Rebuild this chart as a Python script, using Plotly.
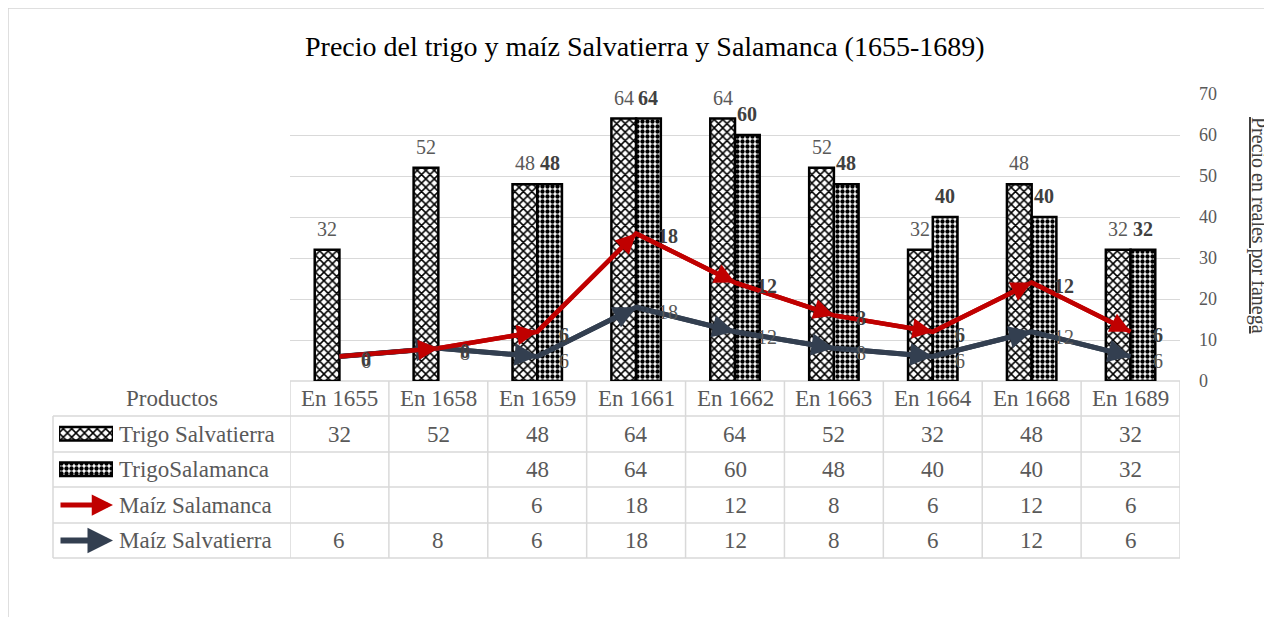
import plotly.graph_objects as go

W, H = 1272, 617

# ---------------- data ----------------
categories = ["En 1655", "En 1658", "En 1659", "En 1661", "En 1662",
              "En 1663", "En 1664", "En 1668", "En 1689"]
trigo_salvatierra = [32, 52, 48, 64, 64, 52, 32, 48, 32]
trigo_salamanca = [None, None, 48, 64, 60, 48, 40, 40, 32]
maiz_salamanca = [None, None, 6, 18, 12, 8, 6, 12, 6]
maiz_salvatierra = [6, 8, 6, 18, 12, 8, 6, 12, 6]
series_names = ["Trigo Salvatierra", "TrigoSalamanca", "Maíz Salamanca", "Maíz Salvatierra"]
title_text = "Precio del trigo y maíz Salvatierra y Salamanca (1655-1689)"
y_title = "Precio en reales por fanega"
corner_label = "Productos"
y_ticks = [0, 10, 20, 30, 40, 50, 60, 70]

# ---------------- styles ----------------
FONT = "Liberation Serif"
GREY = "#595959"
DARK = "#404040"
GRID = "#d9d9d9"
RED = "#c00000"
NAVY = "#333f50"

OFF = 8                                       # page body margin
PL, PR, PT, PB = 290, 1180, 94, 381          # plot area in screen pixels
ROW_LINES = [416, 452, 487, 523, 558]         # table horizontal lines
TABLE_L = 53
BARGAP = 0.5


def px(p):
    return (p - OFF) / W


def py(p):
    return 1 - (p - OFF) / H


# stacked line (Excel stacked line: Salamanca sits on top of Salvatierra)
sal_filled = [v if v is not None else 0 for v in maiz_salamanca]
red_y = [a + b for a, b in zip(maiz_salvatierra, sal_filled)]

fig = go.Figure()

pat_zig = dict(shape="x", fgcolor="black", bgcolor="white", size=6, solidity=0.45)
pat_dot = dict(shape=".", fgcolor="black", bgcolor="white", size=5, solidity=0.6)

fig.add_trace(go.Bar(x=categories, y=trigo_salvatierra, name=series_names[0],
                     marker=dict(color="white", pattern=pat_zig,
                                 line=dict(color="black", width=2.5))))
fig.add_trace(go.Bar(x=categories, y=trigo_salamanca, name=series_names[1],
                     marker=dict(color="white", pattern=pat_dot,
                                 line=dict(color="black", width=2.5))))

fig.add_trace(go.Scatter(x=categories, y=maiz_salvatierra, name=series_names[3],
                         mode="lines", line=dict(color=NAVY, width=5)))
fig.add_trace(go.Scatter(x=categories, y=red_y, name=series_names[2],
                         mode="lines", line=dict(color=RED, width=4.5)))

# legend key swatches for the bar series (in table's first column)
for i, pat in enumerate([pat_zig, pat_dot]):
    fig.add_trace(go.Bar(x=[1], y=[i], orientation="h", width=0.38, offset=-0.19,
                         xaxis="x2", yaxis="y2", cliponaxis=False,
                         marker=dict(color="white", pattern=pat,
                                     line=dict(color="black", width=2.5)),
                         hoverinfo="skip"))

annotations = []
shapes = []

# arrowheads at the end of every line segment (Excel "arrow" line end)
for ys, col, w in [(maiz_salvatierra, NAVY, 5), (red_y, RED, 4.5)]:
    for i in range(1, len(categories)):
        annotations.append(dict(text="", x=categories[i], y=ys[i], xref="x", yref="y",
                                ax=categories[i - 1], ay=ys[i - 1], axref="x", ayref="y",
                                showarrow=True, arrowhead=2, arrowsize=0.9,
                                arrowwidth=w, arrowcolor=col, standoff=0))


def ann(**kw):
    kw.setdefault("showarrow", False)
    kw.setdefault("xanchor", "center")
    kw.setdefault("yanchor", "middle")
    annotations.append(kw)


# title
ann(text=title_text, x=px(645), y=py(46), xref="paper", yref="paper",
    font=dict(family=FONT, size=28, color="black"))
# axis title (rotated, reading top to bottom)
ann(text="<u>" + y_title + "</u>", x=px(1259), y=py(225), xref="paper", yref="paper",
    textangle=90, font=dict(family=FONT, size=20, color=DARK))

# bar value labels
slot = (PR - PL) / len(categories) * (1 - BARGAP) / 2
for c, v in zip(categories, trigo_salvatierra):
    if v is not None:
        ann(text=str(v), x=c, y=v, xref="x", yref="y", xshift=-slot / 2, yshift=21,
            font=dict(family=FONT, size=20, color=GREY))
for c, v in zip(categories, trigo_salamanca):
    if v is not None:
        ann(text="<b>" + str(v) + "</b>", x=c, y=v, xref="x", yref="y",
            xshift=slot / 2, yshift=21, font=dict(family=FONT, size=20, color=DARK))
# line value labels
for c, v in zip(categories, maiz_salvatierra):
    ann(text=str(v), x=c, y=v, xref="x", yref="y", xanchor="left",
        xshift=20, yshift=-5, font=dict(family=FONT, size=20, color=GREY))
for c, v, yy in zip(categories, sal_filled, red_y):
    ann(text="<b>" + str(v) + "</b>", x=c, y=yy, xref="x", yref="y",
        xanchor="left", xshift=20, yshift=-3, font=dict(family=FONT, size=20, color=DARK))

# ---------------- data table ----------------
hdr_y = (PB + ROW_LINES[0]) / 2
row_centers = [(ROW_LINES[i] + ROW_LINES[i + 1]) / 2 for i in range(4)]
tfont = dict(family=FONT, size=23, color=GREY)

ann(text=corner_label, x=px((TABLE_L + PL) / 2), y=py(hdr_y), xref="paper", yref="paper",
    font=tfont)
for c in categories:
    ann(text=c, x=c, y=py(hdr_y), xref="x", yref="paper", font=tfont)

rows = [trigo_salvatierra, trigo_salamanca, maiz_salamanca, maiz_salvatierra]
for name, vals, yc in zip(series_names, rows, row_centers):
    ann(text=name, x=px(117), y=py(yc), xref="paper", yref="paper", xanchor="left",
        font=tfont)
    for c, v in zip(categories, vals):
        if v is not None:
            ann(text=str(v), x=c, y=py(yc), xref="x", yref="paper", font=tfont)

# arrow keys for the line series
for yc, col, w in [(row_centers[2], RED, 5), (row_centers[3], NAVY, 6)]:
    annotations.append(dict(text="", x=px(113), y=py(yc), xref="paper", yref="paper",
                            ax=-54, ay=0, showarrow=True, arrowhead=2, arrowsize=0.85,
                            arrowwidth=w, arrowcolor=col))

line_style = dict(color=GRID, width=1.5)
shapes.append(dict(type="line", xref="x", yref="paper", x0=-0.5, x1=len(categories) - 0.5,
                   y0=py(PB), y1=py(PB), line=line_style, layer="below"))
for yl in ROW_LINES:
    shapes.append(dict(type="line", xref="paper", yref="paper", x0=px(TABLE_L), x1=px(PR),
                       y0=py(yl), y1=py(yl), line=line_style))
shapes.append(dict(type="line", xref="paper", yref="paper", x0=px(TABLE_L), x1=px(TABLE_L),
                   y0=py(ROW_LINES[0]), y1=py(ROW_LINES[-1]), line=line_style))
for k in range(len(categories) + 1):
    shapes.append(dict(type="line", xref="x", yref="paper", x0=k - 0.5, x1=k - 0.5,
                       y0=py(PB), y1=py(ROW_LINES[-1]), line=line_style))

# outer chart frame (partially visible)
frame = dict(color="#d4d4d4", width=1.5)
shapes.append(dict(type="line", xref="paper", yref="paper", x0=px(8), x1=1.01,
                   y0=py(8), y1=py(8), line=frame))
shapes.append(dict(type="line", xref="paper", yref="paper", x0=px(8), x1=px(8),
                   y0=py(8), y1=-0.01, line=frame))

fig.update_layout(
    template="none",
    width=W, height=H,
    margin=dict(l=0, r=0, t=0, b=0, pad=0, autoexpand=False),
    paper_bgcolor="white", plot_bgcolor="white",
    showlegend=False,
    barmode="group", bargap=BARGAP, bargroupgap=0,
    xaxis=dict(domain=[px(PL), px(PR)], type="category", categoryarray=categories,
               range=[-0.5, len(categories) - 0.5], showticklabels=False, automargin=False,
               showgrid=False, zeroline=False, showline=False, ticks="", fixedrange=True),
    yaxis=dict(domain=[py(PB), py(PT)], range=[0, 70], tickvals=y_ticks, side="right",
               showgrid=True, gridcolor=GRID, gridwidth=1.2, zeroline=False, automargin=False,
               showline=False, ticks="", ticklabelstandoff=18,
               tickfont=dict(family=FONT, size=18, color=GREY)),
    xaxis2=dict(domain=[px(59), px(113)], range=[0, 1], visible=False, anchor="y2",
                automargin=False),
    yaxis2=dict(domain=[py(ROW_LINES[2]), py(ROW_LINES[0])], range=[1.5, -0.5],
                visible=False, anchor="x2", automargin=False),
    annotations=annotations,
    shapes=shapes,
)

fig.write_html("out.html")
